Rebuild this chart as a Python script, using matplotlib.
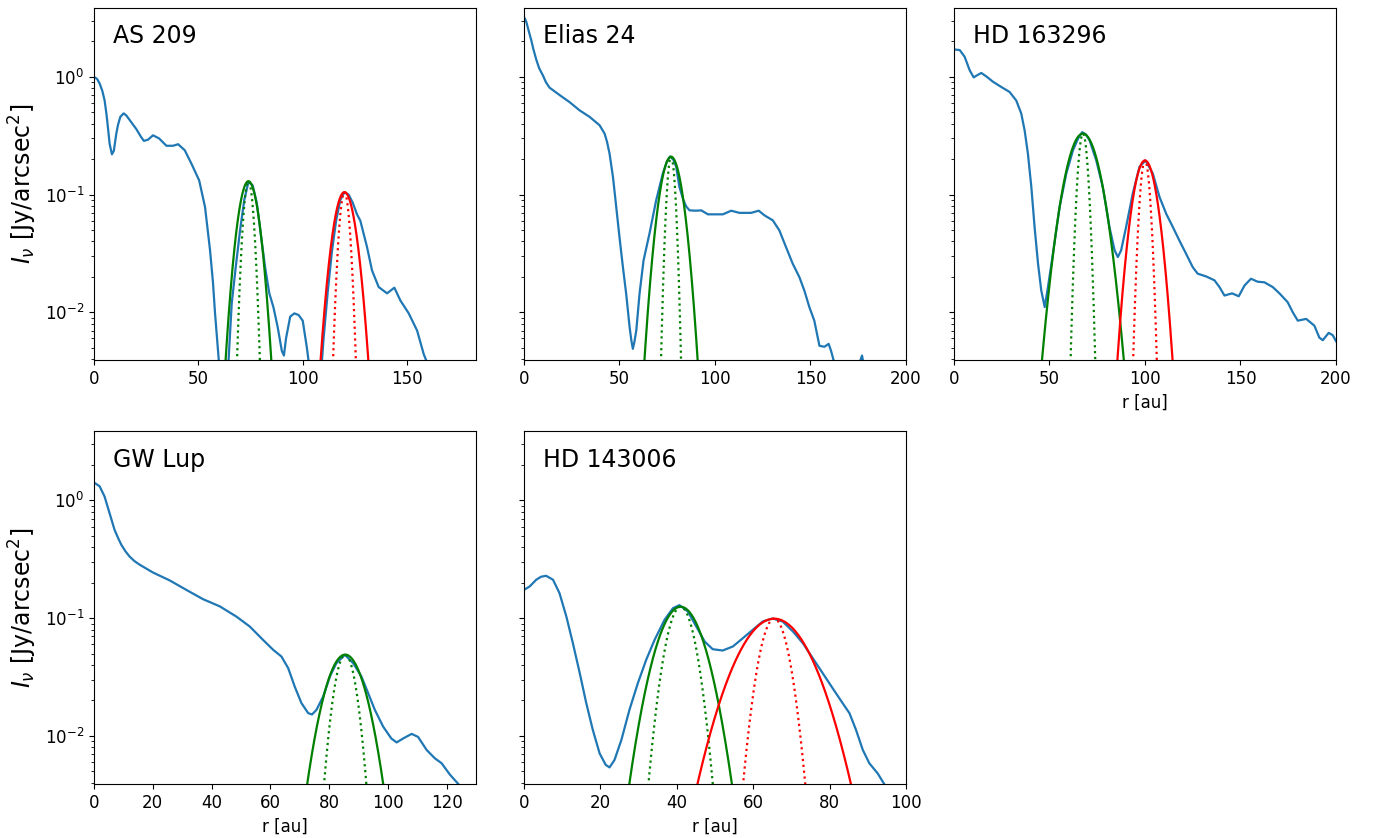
import numpy as np
import matplotlib
matplotlib.use("Agg")
import matplotlib.pyplot as plt
from matplotlib.ticker import MultipleLocator

# radial intensity profiles (r in au, I in Jy/arcsec^2)
as209_r = [0, 1.5, 2.7, 4.0, 5.1, 6.0, 6.7, 7.5, 8.6, 9.5, 10.7, 11.5, 12.6, 14.2, 15.5, 17.1, 20.3, 22.5, 23.9,
           25.9, 28.3, 31.2, 34.7, 37.9, 40.3, 43.5, 46.7, 50.4, 53.2, 55.6, 57.0, 58.0, 59.9, 61.0, 63.0,
           64.5, 66, 68, 70, 72, 74, 76, 78, 80, 82, 84, 86, 88, 90, 91, 92, 94, 96, 98, 100, 102, 103.6,
           105, 108, 110, 112, 114, 116, 118, 120, 122, 124, 126, 127.6, 130.8, 133.2, 136.4, 140.4, 143.9,
           146.8, 150.8, 154.8, 158, 160]
as209_I = [1.0, 0.96, 0.88, 0.76, 0.63, 0.48, 0.37, 0.27, 0.22, 0.235, 0.33, 0.39, 0.457, 0.49, 0.47, 0.43, 0.36, 0.31, 0.286,
           0.293, 0.319, 0.30, 0.26, 0.26, 0.268, 0.238, 0.183, 0.132, 0.0785, 0.0337, 0.018, 0.0098, 0.0037, 0.002, 0.002,
           0.004, 0.012, 0.025, 0.05, 0.09, 0.128, 0.12, 0.085, 0.045, 0.024, 0.0145, 0.011, 0.0075, 0.0047, 0.0043, 0.006, 0.0092, 0.0098, 0.0095, 0.0085, 0.005, 0.003,
           0.001, 0.002, 0.006, 0.015, 0.033, 0.06, 0.09, 0.105, 0.1, 0.085, 0.068, 0.06, 0.0359, 0.0227, 0.0164, 0.0145, 0.0162,
           0.0126, 0.0098, 0.0070, 0.0044, 0.0036]

elias_r = [0, 1.2, 2.5, 3.8, 5.0, 6.5, 8.0, 9.9, 11.5, 13.4, 18.7, 23.9, 29.1, 34.4, 39.6, 42.2, 43.5, 44.8, 46.6,
           48.3, 50.0, 51.8, 53.5, 55.3, 56.2, 57.0, 57.8, 58.8, 60.5, 62.6, 65.7, 69.2, 72.7, 74.8, 76.5, 78.2,
           79.7, 81.4, 83.5, 85.0, 86.7, 90.1, 92.8, 96.3, 104.1, 108.5, 112.8, 118.9, 122.9, 125.9, 130.3,
           133.7, 137.2, 140.7, 144.2, 146.8, 149.4, 152.0, 154.7, 157.3, 159.5, 160.8, 162.5, 165, 172,
           175.6, 177.0, 177.7, 180]
elias_I = [3.23, 2.94, 2.45, 2.05, 1.70, 1.39, 1.18, 1.03, 0.90, 0.81, 0.70, 0.61, 0.52, 0.457, 0.388, 0.33, 0.28, 0.223, 0.141,
           0.0785, 0.0436, 0.0242, 0.0144, 0.0075, 0.0058, 0.0049, 0.0056, 0.0070, 0.0144, 0.0276, 0.0466, 0.0894, 0.151, 0.19, 0.211, 0.198,
           0.172, 0.116, 0.0894, 0.079, 0.0735, 0.073, 0.0735, 0.068, 0.068, 0.073, 0.070, 0.070, 0.073, 0.0667, 0.0604,
           0.0497, 0.0358, 0.0259, 0.0199, 0.0153, 0.0111, 0.0085, 0.0052, 0.0051, 0.0054, 0.0047, 0.0037, 0.002, 0.002,
           0.0037, 0.0043, 0.0037, 0.002]

hd163_r = [0, 3, 5.6, 8.2, 10.3, 12, 14.3, 16.9, 20.4, 24.8, 29.1, 32.6, 35.2, 37, 38.7, 40.5, 42.2, 44,
           45.7, 47.5, 49.2, 51.8, 55.3, 58.8, 62.3, 65, 67.1, 69, 71, 74.5, 77.9, 81.4, 84.1, 85.8, 87.5, 90.1,
           93.6, 97.1, 100.3, 104.1, 107.6, 111.1, 114.6, 118, 121.5, 125, 127.6, 132, 136.4, 139, 141.6,
           145.6, 149.1, 152.1, 155.5, 159, 162.5, 166.9, 170.4, 174.7, 177.4, 180, 184.4, 188.7, 191.3,
           193.1, 196.2, 198.3, 200]
hd163_I = [1.71, 1.69, 1.48, 1.14, 0.99, 1.03, 1.08, 1.01, 0.91, 0.82, 0.745, 0.63, 0.49, 0.35, 0.223, 0.116, 0.053, 0.0259,
           0.0153, 0.0111, 0.0164, 0.0315, 0.0785, 0.151, 0.238, 0.30, 0.339, 0.325, 0.289, 0.195, 0.116, 0.053, 0.0336, 0.0295, 0.0336, 0.053,
           0.102, 0.172, 0.195, 0.151, 0.0955, 0.0688, 0.053, 0.0408, 0.0315, 0.0242, 0.0213, 0.0202, 0.0187, 0.0164, 0.0139,
           0.0145, 0.0137, 0.0169, 0.0193, 0.0182, 0.018, 0.0164, 0.0145, 0.0122, 0.0100, 0.0085, 0.0088, 0.0077, 0.0061,
           0.0058, 0.0067, 0.0064, 0.0057]

gwlup_r = [0, 1.9, 3.6, 5.3, 7, 8.2, 9.3, 10.7, 12.1, 13.8, 15.6, 20.1, 25.8, 31.4, 37.1, 42.8, 48.5, 53, 57.5, 61, 63.8,
           66.1, 68.3, 70.6, 72.9, 74.2, 75.7, 78, 80.3, 82.5, 85.4, 88.2, 91, 93.3, 95.6, 98.4, 101.2,
           103, 105.2, 108.1, 110.3, 113.2, 116, 118.3, 121.1, 124, 126]
gwlup_I = [1.42, 1.32, 1.08, 0.78, 0.563, 0.48, 0.42, 0.37, 0.334, 0.305, 0.284, 0.244, 0.209, 0.174, 0.145, 0.126, 0.103, 0.085, 0.0655, 0.0538, 0.0472,
           0.0376, 0.0263, 0.019, 0.0156, 0.0152, 0.0166, 0.0216, 0.032, 0.0415, 0.0488, 0.0415, 0.032, 0.0231, 0.0166, 0.012, 0.0095,
           0.0088, 0.0095, 0.0104, 0.0098, 0.0076, 0.00645, 0.00586, 0.0047, 0.0039, 0.0033]

hd143_r = [0, 1.5, 3.2, 4.5, 5.8, 7.6, 9.3, 11.1, 12.8, 14.6, 16.3, 18, 19.8, 21.4, 22.4, 23.7, 25.5, 27.6,
           29.8, 32, 34.2, 36.8, 39, 40.7, 42.9, 45.1, 47.3, 49.4, 52, 54.7, 57.3, 59.9, 62.5, 65.1, 67.7,
           70.4, 73, 75.6, 78.2, 80.8, 83.4, 85.2, 86.9, 88.7, 90.4, 92.6, 94.3, 96]
hd143_I = [0.174, 0.186, 0.212, 0.225, 0.229, 0.212, 0.163, 0.103, 0.0613, 0.0341, 0.019, 0.0113, 0.0071, 0.00567, 0.0054, 0.00625, 0.00925, 0.0166,
           0.028, 0.0443, 0.0655, 0.0968, 0.1216, 0.129, 0.114, 0.085, 0.0633, 0.0545, 0.0531, 0.0575, 0.0676, 0.0796, 0.0937, 0.0993, 0.0937,
           0.0771, 0.0613, 0.0457, 0.0341, 0.0254, 0.019, 0.0156, 0.0113, 0.0076, 0.00586, 0.0048, 0.0039, 0.0032]

# gaussian ring fits: (amplitude, centre, sigma observed, sigma deconvolved, colour)
as209_rings = [(0.13, 74.0, 4.14, 2.07, "green"), (0.105, 120.0, 4.46, 2.13, "red")]
elias_rings = [(0.21, 77.0, 4.94, 1.86, "green")]
hd163_rings = [(0.33, 67.5, 7.2, 2.17, "green"), (0.195, 100.0, 5.17, 2.22, "red")]
gwlup_rings = [(0.049, 85.5, 5.75, 3.2, "green")]
hd143_rings = [(0.125, 41.0, 5.1, 3.2, "green"), (0.099, 65.5, 7.9, 3.2, "red")]

names = ["AS 209", "Elias 24", "HD 163296", "GW Lup", "HD 143006"]
profiles = [(as209_r, as209_I), (elias_r, elias_I), (hd163_r, hd163_I), (gwlup_r, gwlup_I), (hd143_r, hd143_I)]
rings = [as209_rings, elias_rings, hd163_rings, gwlup_rings, hd143_rings]
rmax = [183, 200, 200, 130, 100]
xstep = [50, 50, 50, 20, 20]


def gauss(r, a, r0, s):
    return a * np.exp(-0.5 * ((r - r0) / s) ** 2)


fig, axes = plt.subplots(2, 3, figsize=(13.8, 8.38), dpi=100, sharey=True)
fig.subplots_adjust(left=0.0681, right=0.9681, top=0.9905, bottom=0.0644, wspace=0.1257, hspace=0.2014)
axes = axes.flatten()
axes[5].remove()

for i, ax in enumerate(axes[:5]):
    r, I = profiles[i]
    ax.semilogy(r, I, color="tab:blue", lw=1.6)
    rr = np.linspace(0, rmax[i], 2000)
    for a, r0, s, sd, c in rings[i]:
        ax.plot(rr, gauss(rr, a, r0, s), color=c, lw=1.6)
        ax.plot(rr, gauss(rr, a, r0, sd), color=c, lw=1.6, ls=":")
    ax.set_xlim(0, rmax[i])
    ax.set_ylim(0.0039, 3.85)
    ax.xaxis.set_major_locator(MultipleLocator(xstep[i]))
    ax.text(0.05, 0.92, names[i], transform=ax.transAxes, fontsize=17, va="center")
    ax.tick_params(labelsize=12)
    if i in (2, 3, 4):
        ax.set_xlabel("r [au]", fontsize=12)
    if i in (0, 3):
        ax.set_ylabel(r"$I_\nu$ [Jy/arcsec$^2$]", fontsize=17)

fig.savefig("out.png", dpi=100)
